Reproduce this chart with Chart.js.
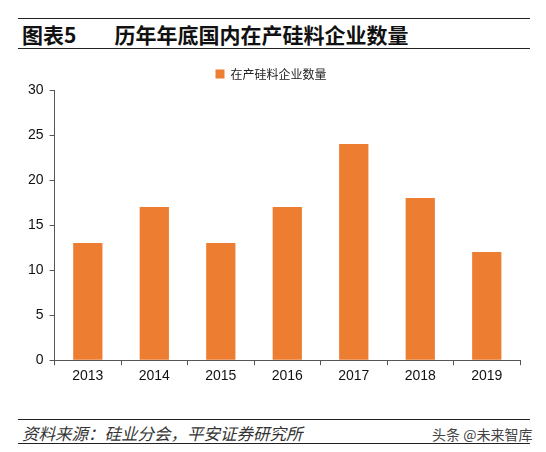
<!DOCTYPE html>
<html><head><meta charset="utf-8">
<script src="https://cdn.jsdelivr.net/npm/chart.js@4/dist/chart.umd.min.js"></script>
<style>
body{margin:0;width:546px;height:452px;background:#fff;font-family:"Liberation Sans","Noto Sans CJK SC",sans-serif;position:relative;overflow:hidden}
.l{position:absolute;left:18px;width:512px;border-top:1.5px solid #222}
#title{position:absolute;left:22px;top:19px;font-size:21px;font-weight:bold;color:#111;font-family:"Noto Sans CJK SC",sans-serif}
#title span{margin-left:38px}
#src{position:absolute;left:22px;top:421px;font-size:16.5px;font-style:italic;color:#333;font-family:"Noto Sans CJK SC",sans-serif}
#wm{position:absolute;left:432px;top:424px;font-size:14px;color:#444;font-family:"Noto Sans CJK SC",sans-serif}
#wrap{position:absolute;left:0;top:58px;width:546px;height:330px}
</style></head><body>
<div class="l" style="top:18px"></div>
<div id="title">图表5<span>历年年底国内在产硅料企业数量</span></div>
<div class="l" style="top:48px"></div>
<div id="wrap"><canvas id="c"></canvas></div>
<div class="l" style="top:419px"></div>
<div id="src">资料来源：硅业分会，平安证券研究所</div>
<div id="wm">头条 @未来智库</div>
<div class="l" style="top:443px"></div>
<script>
const years = ["2013","2014","2015","2016","2017","2018","2019"];
const counts = [13, 17, 13, 17, 24, 18, 12];
const yTicks = [0, 5, 10, 15, 20, 25, 30];

new Chart(document.getElementById("c"), {
    type: "bar",
    data: {
        labels: years,
        datasets: [{
            label: "在产硅料企业数量",
            data: counts,
            backgroundColor: "#ed7d31",
            categoryPercentage: 0.44,
            barPercentage: 1
        }]
    },
    options: {
        responsive: true,
        maintainAspectRatio: false,
        animation: false,
        layout: { padding: { left: 22, right: 26, top: 0, bottom: 0 } },
        plugins: {
            legend: {
                labels: {
                    boxWidth: 9, boxHeight: 9, padding: 10, color: "#222",
                    font: { size: 12, family: "Noto Sans CJK SC" }
                }
            },
            tooltip: { enabled: false }
        },
        scales: {
            x: {
                grid: { display: true, drawOnChartArea: false, offset: true, tickLength: 5, color: "#555" },
                border: { color: "#555" },
                ticks: { color: "#111", font: { size: 14, family: "Liberation Sans" } }
            },
            y: {
                min: 0, max: 30,
                afterBuildTicks: a => { a.ticks = yTicks.map(v => ({ value: v })); },
                grid: { display: true, drawOnChartArea: false, tickLength: 5, color: "#555" },
                border: { color: "#555" },
                ticks: { color: "#111", padding: 6, font: { size: 14, family: "Liberation Sans" } }
            }
        }
    }
});
</script>
</body></html>
